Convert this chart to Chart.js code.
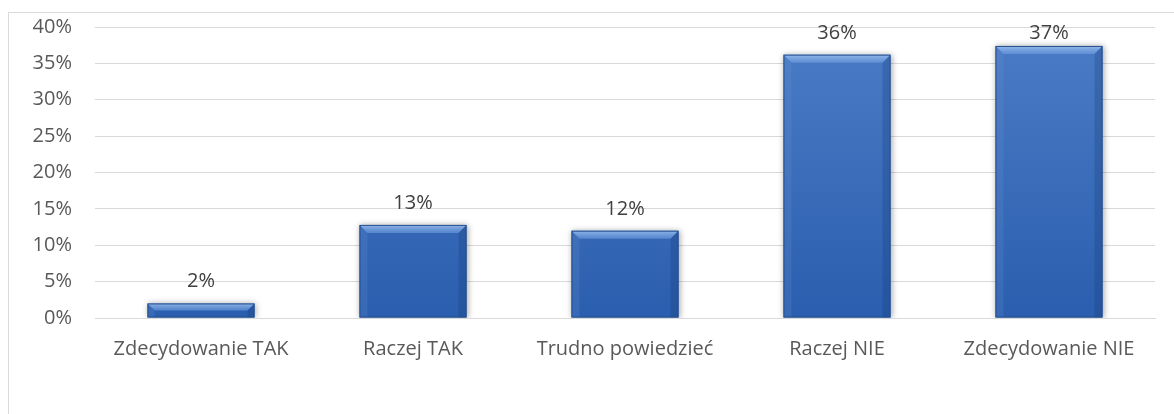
<!DOCTYPE html>
<html>
<head>
<meta charset="utf-8">
<script src="https://cdn.jsdelivr.net/npm/chart.js@4/dist/chart.umd.min.js"></script>
<style>
  html, body { margin: 0; padding: 0; background: #fff; }
  #wrap {
    position: absolute; left: 8px; top: 12px;
    width: 1165px; height: 401px;
    border-left: 1px solid #d9d9d9; border-top: 1px solid #d9d9d9;
  }
</style>
</head>
<body>
<div id="wrap"><canvas id="chart" width="1165" height="401"></canvas></div>
<script>
const categories = ['Zdecydowanie TAK', 'Raczej TAK', 'Trudno powiedzieć', 'Raczej NIE', 'Zdecydowanie NIE']
const values = [2.0, 12.8, 12.0, 36.2, 37.4]
const valueLabels = ['2%', '13%', '12%', '36%', '37%']
const yTicks = [0, 5, 10, 15, 20, 25, 30, 35, 40]

const FONT = '"Open Sans", sans-serif'
const FONT_SIZE = 20

// gradient fill for the bars
function barFill(context) {
  const area = context.chart.chartArea
  if (!area) return '#3a6fc0'
  const g = context.chart.ctx.createLinearGradient(0, area.top, 0, area.bottom)
  g.addColorStop(0, '#4b7cc6')
  g.addColorStop(1, '#2a5eae')
  return g
}

// soft shadow around the bars
const shadowPlugin = {
  id: 'barShadow',
  beforeDatasetDraw(chart) {
    const ctx = chart.ctx
    ctx.save()
    ctx.shadowColor = 'rgba(0,0,0,0.35)'
    ctx.shadowBlur = 6
    ctx.shadowOffsetX = 1
    ctx.shadowOffsetY = 0
  },
  afterDatasetDraw(chart) {
    chart.ctx.restore()
  }
}

// Excel-like bevel on each bar
const bevelPlugin = {
  id: 'bevel',
  afterDatasetsDraw(chart) {
    const ctx = chart.ctx
    chart.getDatasetMeta(0).data.forEach(bar => {
      const l = bar.x - bar.width / 2
      const r = bar.x + bar.width / 2
      const t = bar.y
      const b = bar.base
      const d = Math.min(8, (b - t) / 2)
      ctx.save()
      // top bevel
      const tg = ctx.createLinearGradient(0, t, 0, t + d)
      tg.addColorStop(0, 'rgba(160,195,240,0.85)')
      tg.addColorStop(1, 'rgba(120,165,230,0.5)')
      ctx.fillStyle = tg
      ctx.beginPath()
      ctx.moveTo(l, t); ctx.lineTo(r, t); ctx.lineTo(r - d, t + d); ctx.lineTo(l + d, t + d)
      ctx.closePath(); ctx.fill()
      // left bevel
      ctx.fillStyle = 'rgba(110,150,215,0.2)'
      ctx.beginPath()
      ctx.moveTo(l, t); ctx.lineTo(l + d, t + d); ctx.lineTo(l + d, b); ctx.lineTo(l, b)
      ctx.closePath(); ctx.fill()
      // right bevel
      ctx.fillStyle = 'rgba(20,55,110,0.25)'
      ctx.beginPath()
      ctx.moveTo(r, t); ctx.lineTo(r - d, t + d); ctx.lineTo(r - d, b); ctx.lineTo(r, b)
      ctx.closePath(); ctx.fill()
      // outline
      ctx.strokeStyle = '#234f8e'
      ctx.lineWidth = 1
      ctx.strokeRect(l + 0.5, t + 0.5, r - l - 1, b - t - 1)
      ctx.restore()
    })
  }
}

// value labels above bars, kept inside the plot area
const labelPlugin = {
  id: 'valueLabels',
  afterDatasetsDraw(chart) {
    const ctx = chart.ctx
    const top = chart.chartArea.top
    ctx.save()
    ctx.font = FONT_SIZE + 'px ' + FONT
    ctx.fillStyle = '#404040'
    ctx.textAlign = 'center'
    ctx.textBaseline = 'alphabetic'
    chart.getDatasetMeta(0).data.forEach((bar, i) => {
      ctx.fillText(valueLabels[i], bar.x, Math.max(bar.y - 16, top + 12))
    })
    ctx.restore()
  }
}

new Chart(document.getElementById('chart'), {
  type: 'bar',
  data: {
    labels: categories,
    datasets: [{
      data: values,
      backgroundColor: barFill,
      borderWidth: 0,
      barPercentage: 0.505,
      categoryPercentage: 1,
    }],
  },
  options: {
    responsive: false,
    animation: false,
    layout: { padding: { left: 0, right: 19, top: 14, bottom: 0 } },
    plugins: {
      legend: { display: false },
      tooltip: { enabled: false },
    },
    scales: {
      x: {
        grid: { display: false },
        border: { display: true, color: '#d9d9d9', width: 1 },
        ticks: { color: '#595959', font: { family: FONT, size: FONT_SIZE }, padding: 11, maxRotation: 0 },
        afterFit(scale) { scale.height = 96 },
      },
      y: {
        min: 0,
        max: 40,
        afterBuildTicks(scale) { scale.ticks = yTicks.map(v => ({ value: v })) },
        grid: { color: '#d9d9d9', drawTicks: false },
        border: { display: false },
        ticks: {
          color: '#595959',
          font: { family: FONT, size: FONT_SIZE },
          padding: 23,
          callback: v => v + '%',
        },
        afterFit(scale) {
          scale.width = 86
          scale.paddingTop = 12
          scale.paddingBottom = 12
        },
      },
    },
  },
  plugins: [shadowPlugin, bevelPlugin, labelPlugin],
})
</script>
</body>
</html>
